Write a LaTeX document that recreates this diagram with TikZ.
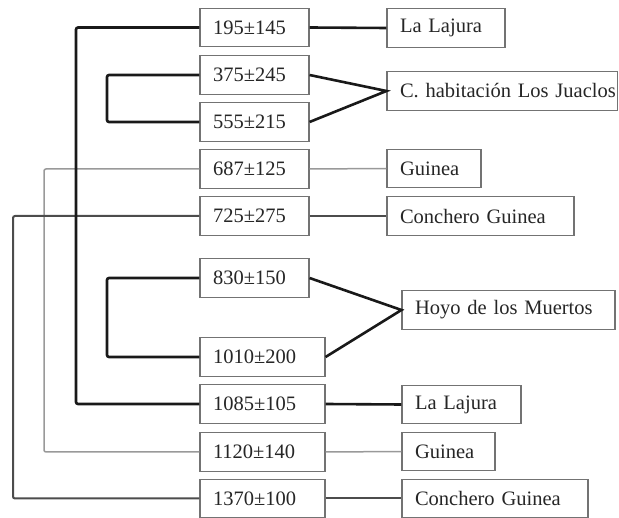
\documentclass[tikz,border=0pt]{standalone}
\usepackage{fontspec}
\setmainfont{Liberation Serif}
\begin{document}
\begin{tikzpicture}[x=1pt,y=-1pt,
  box/.style={draw=black!55, line width=1.1pt, fill=white, minimum height=38.5pt,
    inner xsep=13pt, inner ysep=0pt, align=left, text=black!85, font=\fontsize{20.5}{22}\selectfont},
  bl/.style={box, text width=83pt},
  bw/.style={box, text width=99pt},
  strong/.style={line width=2.6pt, black!90, rounded corners=2pt},
  mid/.style={line width=2pt, black!70, rounded corners=2pt},
  light/.style={line width=1.5pt, black!40, rounded corners=2pt}]
\useasboundingbox (0,0) rectangle (619,518);
% left boxes
\node[bl] (b1) at (254.5,27.5) {195±145};
\node[bl] (b2) at (254.5,75) {375±245};
\node[bl] (b3) at (254.5,122) {555±215};
\node[bl] (b4) at (254.5,169) {687±125};
\node[bl] (b5) at (254.5,216) {725±275};
\node[bl] (b6) at (254.5,278) {830±150};
\node[bw] (b7) at (262.5,357) {1010±200};
\node[bw] (b8) at (262.5,404) {1085±105};
\node[bw] (b9) at (262.5,452) {1120±140};
\node[bw] (b10) at (262.5,498.5) {1370±100};
% right boxes
\node[box, text width=92pt] (r1) at (446,28) {La Lajura};
\node[box, text width=204.5pt] (r2) at (502.25,91) {\mbox{C. habitación Los Juaclos}};
\node[box, text width=68pt] (r3) at (434,168.5) {Guinea};
\node[box, text width=161pt] (r4) at (480.5,216) {Conchero Guinea};
\node[box, text width=187pt] (r5) at (508.5,310) {\mbox{Hoyo de los Muertos}};
\node[box, text width=93pt] (r6) at (461.5,404.5) {La Lajura};
\node[box, text width=67pt] (r7) at (448.5,451.5) {Guinea};
\node[box, text width=160pt] (r8) at (495,498.5) {Conchero Guinea};
% bracket x positions
\coordinate (xa) at (13,0);
\coordinate (xb) at (44,0);
\coordinate (xc) at (76,0);
\coordinate (xd) at (107,0);
% light (Guinea)
\draw[light] (b4.west) -- (b4.west -| xb) |- (b9.west);
\draw[light] (b4.east) -- (r3.west);
\draw[light] (b9.east) -- (r7.west);
% medium (Conchero Guinea)
\draw[mid] (b5.west) -- (b5.west -| xa) |- (b10.west);
\draw[mid] (b5.east) -- (r4.west);
\draw[mid] (b10.east) -- (r8.west);
% strong
\draw[strong] (b1.west) -- (b1.west -| xc) |- (b8.west);
\draw[strong] (b1.east) -- (r1.west);
\draw[strong] (b8.east) -- (r6.west);
\draw[strong] (b2.west) -- (b2.west -| xd) |- (b3.west);
\draw[strong, rounded corners=0pt] (b2.east) -- (r2.west) -- (b3.east);
\draw[strong] (b6.west) -- (b6.west -| xd) |- (b7.west);
\draw[strong, rounded corners=0pt] (b6.east) -- (r5.west) -- (b7.east);
\end{tikzpicture}
\end{document}
